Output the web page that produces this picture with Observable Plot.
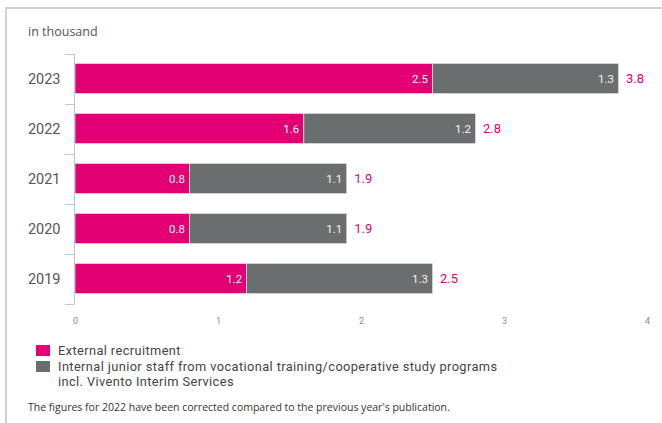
<!DOCTYPE html>
<html><head><meta charset="utf-8">
<script src="https://cdn.jsdelivr.net/npm/d3@7"></script>
<script src="https://cdn.jsdelivr.net/npm/@observablehq/plot@0.6"></script>
<style>
body{margin:0;background:#fff;font-family:"Open Sans",Roboto,sans-serif;}
#wrap{position:relative;width:662px;height:423px;overflow:hidden;background:#fff;}
#frame{position:absolute;left:5px;top:7px;width:700px;height:500px;border-top:2px solid #d0d0d0;border-left:2px solid #d0d0d0;}
#unit{position:absolute;left:28px;top:24px;font-size:12.5px;line-height:16px;color:#555;}
#chart{position:absolute;left:0;top:45px;}
#legend{position:absolute;left:36px;top:343px;font-family:Roboto,"Open Sans",sans-serif;font-size:12.8px;letter-spacing:0.4px;color:#444;line-height:15.5px;}
.item{display:flex;align-items:flex-start;}
.sw{width:14px;height:11px;margin-top:2px;margin-right:8px;flex:none;}
#note{position:absolute;left:28px;top:400px;font-size:10.5px;line-height:14px;color:#333;}
</style></head>
<body>
<div id="wrap">
  <div id="frame"></div>
  <div id="unit">in thousand</div>
  <div id="chart"></div>
  <div id="legend"></div>
  <div id="note">The figures for 2022 have been corrected compared to the previous year's publication.</div>
</div>
<script>
const years = ["2023", "2022", "2021", "2020", "2019"];
const external = [2.5, 1.6, 0.8, 0.8, 1.2];
const internal = [1.3, 1.2, 1.1, 1.1, 1.3];
const totals = [3.8, 2.8, 1.9, 1.9, 2.5];
const xTicks = [0, 1, 2, 3, 4];
const seriesNames = ["External recruitment", "Internal junior staff from vocational training/cooperative study programs incl. Vivento Interim Services"];
const seriesColors = ["#E20074", "#6B6E6F"];

const rows = years.flatMap((y, i) => [
  {year: y, series: seriesNames[0], x1: 0, x2: external[i], v: external[i]},
  {year: y, series: seriesNames[1], x1: external[i], x2: external[i] + internal[i], v: internal[i]}
]);
const totalRows = years.map((y, i) => ({year: y, total: totals[i], end: external[i] + internal[i]}));

const plot = Plot.plot({
  width: 662, height: 290,
  marginLeft: 75, marginRight: 15, marginTop: 8, marginBottom: 30,
  style: {fontFamily: "Roboto, 'Noto Sans', sans-serif", background: "transparent"},
  x: {domain: [0, 4], axis: null, label: null},
  y: {domain: years, padding: 0, axis: null, label: null},
  color: {domain: seriesNames, range: seriesColors},
  marks: [
    Plot.barX(rows, {y: "year", x1: "x1", x2: "x2", fill: "series", insetTop: 9.5, insetBottom: 10.5, stroke: "#d8d8d8", strokeWidth: 0.8}),
    Plot.text(rows, {y: "year", x: "x2", text: d => d.v.toFixed(1), textAnchor: "end", dx: -5, dy: -0.5, fill: "#f4f4f4", fontSize: 11.5}),
    Plot.text(totalRows, {y: "year", x: "end", text: d => d.total.toFixed(1), textAnchor: "start", dx: 7, dy: -0.5, fill: "#E20074", fontSize: 13}),
    Plot.axisX({ticks: xTicks, tickSize: 0, tickPadding: 12, fontSize: 9, color: "#8a8a8a", tickFormat: d => String(d), label: null}),
    Plot.axisY({tickSize: 0, tickPadding: 15, fontSize: 14.5, color: "#555", label: null})
  ]
});

// y axis line and band-boundary ticks from the plot's own scales
const ys = plot.scale("y"), xs = plot.scale("x");
const x0 = xs.apply(0) - 1;
const bounds = years.map(y => ys.apply(y));
bounds.push(ys.apply(years[years.length - 1]) + ys.bandwidth);
const g = d3.select(plot).append("g").attr("stroke", "#b8c6dc").attr("stroke-width", 1).attr("fill", "none");
g.append("line").attr("x1", x0 + 0.5).attr("x2", x0 + 0.5).attr("y1", bounds[0]).attr("y2", bounds[bounds.length - 1]);
g.selectAll("path.tick").data(bounds).join("line")
  .attr("x1", x0 - 9).attr("x2", x0 + 0.5)
  .attr("y1", d => Math.round(d) + 0.5).attr("y2", d => Math.round(d) + 0.5);

document.getElementById("chart").appendChild(plot);

const legend = d3.select("#legend");
seriesNames.forEach((name, i) => {
  const it = legend.append("div").attr("class", "item");
  it.append("div").attr("class", "sw").style("background", seriesColors[i]);
  const t = it.append("div");
  if (i === 1) {
    t.html("Internal junior staff from vocational training/cooperative study programs<br>incl. Vivento Interim Services");
  } else t.text(name);
});
</script>
</body></html>
